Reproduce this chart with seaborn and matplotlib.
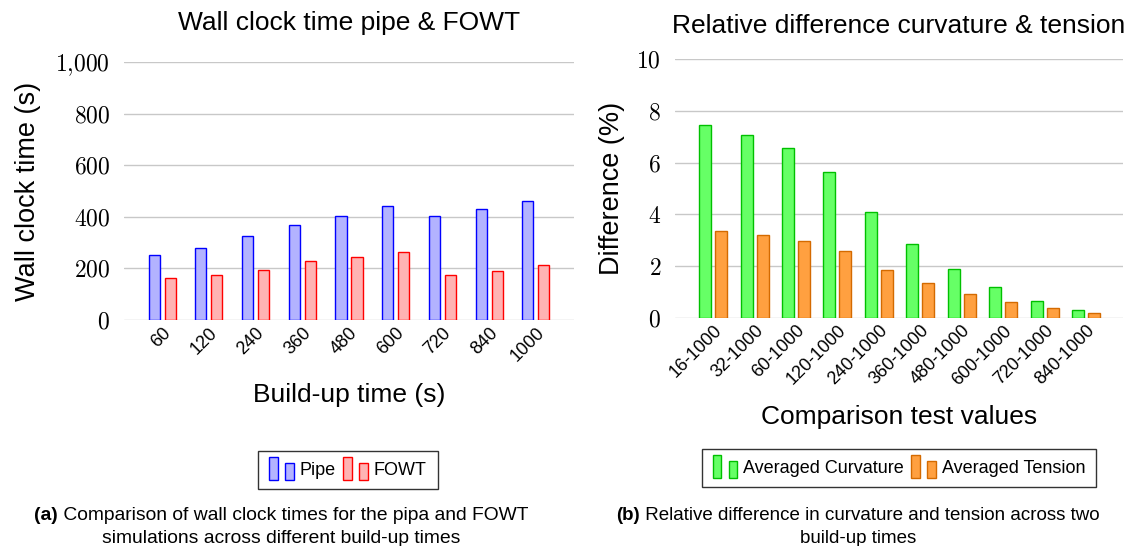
import numpy as np
import pandas as pd
import matplotlib
matplotlib.use("Agg")
import matplotlib.pyplot as plt
import seaborn as sns
from matplotlib.patches import Rectangle
from matplotlib.legend_handler import HandlerBase
from matplotlib.offsetbox import TextArea, HPacker, VPacker, AnnotationBbox
from matplotlib.ticker import FuncFormatter, MultipleLocator

# ---------------- data ----------------
build_up = ["60", "120", "240", "360", "480", "600", "720", "840", "1000"]
pipe_time = [253, 281, 326, 369, 402, 440, 404, 432, 462]
fowt_time = [161, 175, 194, 227, 243, 262, 173, 190, 213]

comparisons = ["16-1000", "32-1000", "60-1000", "120-1000", "240-1000",
               "360-1000", "480-1000", "600-1000", "720-1000", "840-1000"]
avg_curvature = [7.47, 7.08, 6.58, 5.65, 4.10, 2.84, 1.91, 1.20, 0.66, 0.31]
avg_tension = [3.34, 3.21, 2.98, 2.57, 1.86, 1.35, 0.93, 0.62, 0.39, 0.19]

# ---------------- style ----------------
sns.set_theme(style="white")
plt.rcParams['font.family'] = ['Liberation Sans', 'DejaVu Sans']
plt.rcParams['mathtext.fontset'] = 'cm'
plt.rcParams['text.color'] = 'black'
plt.rcParams['axes.labelcolor'] = 'black'
plt.rcParams['xtick.color'] = 'black'
plt.rcParams['ytick.color'] = 'black'

GRID = "#c8c8c8"
pipe_fc, pipe_ec = "#b3b3ff", "#0000ff"
fowt_fc, fowt_ec = "#ffb3b3", "#ff0000"
curv_fc, curv_ec = "#66ff66", "#00c000"
tens_fc, tens_ec = "#ffa040", "#d46a00"


class TwoBarHandler(HandlerBase):
    def create_artists(self, legend, orig_handle, xdescent, ydescent,
                       width, height, fontsize, trans):
        fc = orig_handle.get_facecolor()
        ec = orig_handle.get_edgecolor()
        bw = width * 0.34
        r1 = Rectangle((-xdescent, -ydescent - height * 0.35), bw, height * 1.7,
                       facecolor=fc, edgecolor=ec, lw=1, transform=trans)
        r2 = Rectangle((-xdescent + width * 0.64, -ydescent - height * 0.35), bw, height * 1.25,
                       facecolor=fc, edgecolor=ec, lw=1, transform=trans)
        return [r1, r2]


def num_fmt(v, pos):
    s = f"{int(round(v)):,}".replace(",", "{,}")
    return f"${s}$"


fig = plt.figure(figsize=(11.33, 5.46), dpi=100)
ax1 = fig.add_axes([124 / 1133, 1 - 320 / 546, 450 / 1133, 258 / 546])
ax2 = fig.add_axes([675 / 1133, 1 - 318 / 546, 448 / 1133, 259 / 546])

# ---------------- left chart ----------------
df1 = pd.DataFrame({
    "Build-up": build_up * 2,
    "Time": pipe_time + fowt_time,
    "Series": ["Pipe"] * len(build_up) + ["FOWT"] * len(build_up),
})
sns.barplot(data=df1, x="Build-up", y="Time", hue="Series",
            palette=[pipe_fc, fowt_fc], saturation=1, width=0.686, gap=0.31,
            ax=ax1, legend=False, linewidth=1)
for cont, ec in zip(ax1.containers, [pipe_ec, fowt_ec]):
    for p in cont.patches:
        p.set_edgecolor(ec)
        p.set_linewidth(1)

ax1.set_ylim(0, 1000)
ax1.set_xlim(-0.82, 8.82)
ax1.yaxis.set_major_locator(MultipleLocator(200))
ax1.yaxis.set_major_formatter(FuncFormatter(num_fmt))

# ---------------- right chart ----------------
df2 = pd.DataFrame({
    "Comparison": comparisons * 2,
    "Diff": avg_curvature + avg_tension,
    "Series": ["Averaged Curvature"] * len(comparisons) + ["Averaged Tension"] * len(comparisons),
})
sns.barplot(data=df2, x="Comparison", y="Diff", hue="Series",
            palette=[curv_fc, tens_fc], saturation=1, width=0.773, gap=0.25,
            ax=ax2, legend=False, linewidth=1)
for cont, ec in zip(ax2.containers, [curv_ec, tens_ec]):
    for p in cont.patches:
        p.set_edgecolor(ec)
        p.set_linewidth(1)

ax2.set_ylim(0, 10)
ax2.set_xlim(-0.92, 9.89)
ax2.yaxis.set_major_locator(MultipleLocator(2))
ax2.yaxis.set_major_formatter(FuncFormatter(num_fmt))

# ---------------- common axes styling ----------------
for ax, title, xl, yl, tpad, xpad in [
    (ax1, "Wall clock time pipe & FOWT", "Build-up time (s)", "Wall clock time (s)", 23, 13),
    (ax2, "Relative difference curvature & tension", "Comparison test values", "Difference (%)", 19, 12),
]:
    ax.set_axisbelow(True)
    ax.yaxis.grid(True, color=GRID, lw=1)
    ax.xaxis.grid(False)
    for s in ax.spines.values():
        s.set_visible(False)
    ax.tick_params(axis="y", length=0, pad=10, labelsize=17)
    ax.tick_params(axis="x", length=0, pad=3, labelsize=13)
    for lab in ax.get_xticklabels():
        lab.set_rotation(45)
        lab.set_ha("right")
        lab.set_va("top")
        lab.set_rotation_mode("anchor")
    ax.set_title(title, fontsize=19, pad=tpad)
    ax.set_xlabel(xl, fontsize=19, labelpad=xpad)
    ax.set_ylabel(yl, fontsize=19.5, labelpad=10 if ax is ax1 else 8)

# legends
h1 = [Rectangle((0, 0), 1, 1, facecolor=pipe_fc, edgecolor=pipe_ec),
      Rectangle((0, 0), 1, 1, facecolor=fowt_fc, edgecolor=fowt_ec)]
leg1 = fig.legend(h1, ["Pipe", "FOWT"], loc="center", ncol=2,
                  bbox_to_anchor=(348 / 1133, 1 - 470 / 546),
                  handler_map={Rectangle: TwoBarHandler()},
                  fontsize=13, frameon=True, fancybox=False, edgecolor="black",
                  handlelength=1.4, handleheight=0.8, handletextpad=0.3,
                  columnspacing=0.4, borderpad=0.6)
leg1.get_frame().set_linewidth(1)

h2 = [Rectangle((0, 0), 1, 1, facecolor=curv_fc, edgecolor=curv_ec),
      Rectangle((0, 0), 1, 1, facecolor=tens_fc, edgecolor=tens_ec)]
leg2 = fig.legend(h2, ["Averaged Curvature", "Averaged Tension"], loc="center", ncol=2,
                  bbox_to_anchor=(899 / 1133, 1 - 468 / 546),
                  handler_map={Rectangle: TwoBarHandler()},
                  fontsize=13, frameon=True, fancybox=False, edgecolor="black",
                  handlelength=1.4, handleheight=0.8, handletextpad=0.3,
                  columnspacing=0.4, borderpad=0.6)
leg2.get_frame().set_linewidth(1)

# captions
def caption(xc, yc, tag, line1, line2, fs):
    row1 = HPacker(children=[TextArea(tag, textprops=dict(fontsize=fs, fontweight="bold")),
                             TextArea(" " + line1, textprops=dict(fontsize=fs))],
                   align="baseline", pad=0, sep=0)
    row2 = TextArea(line2, textprops=dict(fontsize=fs))
    box = VPacker(children=[row1, row2], align="center", pad=0, sep=4)
    ab = AnnotationBbox(box, (xc, yc), xycoords="figure fraction", frameon=False,
                        box_alignment=(0.5, 0.5))
    fig.add_artist(ab)

caption(281 / 1133, 1 - 527 / 546, "(a)",
        "Comparison of wall clock times for the pipa and FOWT",
        "simulations across different build-up times", 13.9)
caption(858 / 1133, 1 - 527 / 546, "(b)",
        "Relative difference in curvature and tension across two",
        "build-up times", 13.5)

fig.savefig("out.png", dpi=100)
